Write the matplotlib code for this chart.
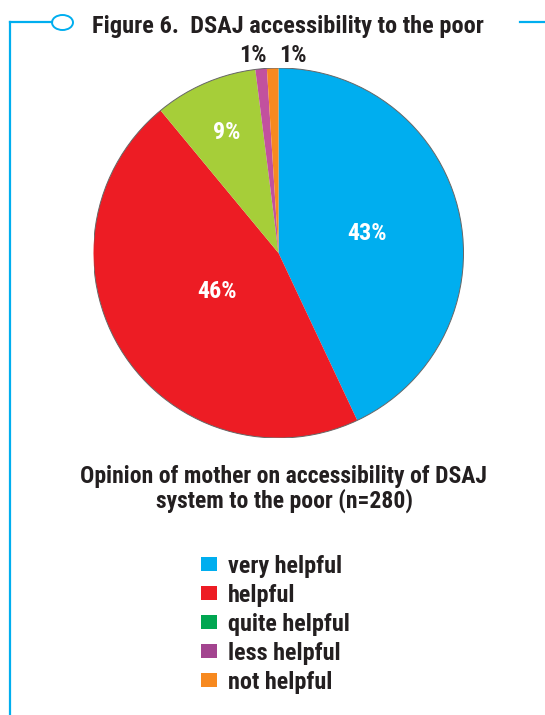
import matplotlib
matplotlib.use("Agg")
import matplotlib.pyplot as plt
from matplotlib import font_manager
from matplotlib.patches import Ellipse, Circle, Rectangle
from matplotlib.lines import Line2D
import numpy as np

# Data
categories = ["very helpful", "helpful", "quite helpful", "less helpful", "not helpful"]
shares = [43, 46, 9, 1, 1]
pct_labels = ["43%", "46%", "9%", "1%", "1%"]
title = "Figure 6.  DSAJ accessibility to the poor"
caption = ["Opinion of mother on accessibility of DSAJ", "system to the poor (n=280)"]

# Styling
wedge_colors = ["#00AEEF", "#ED1C24", "#A6CE39", "#C2519E", "#F7891F"]
legend_colors = ["#00AEEF", "#ED1C24", "#00A651", "#A3448F", "#F7891F"]
label_colors = ["white", "white", "white", "#231F20", "#231F20"]
label_radius = [0.49, 0.392, 0.711, 1.07, 1.07]
label_xshift = [0.0, 0.0, 0.0, -0.040, 0.114]
ink = "#231F20"
blue = "#00AEEF"
WEIGHT = 800


def pick_font():
    preferred = ["Roboto Condensed", "Archivo Narrow", "Barlow Semi Condensed",
                 "Barlow Condensed", "PT Sans Narrow", "Fira Sans Condensed",
                 "IBM Plex Sans Condensed", "Saira SemiCondensed",
                 "Liberation Sans Narrow", "DejaVu Sans"]
    bold = {f.name for f in font_manager.fontManager.ttflist
            if (f.weight if isinstance(f.weight, int) else 400) >= 600
            or f.weight in ("bold", "semibold", "demibold", "heavy", "black")}
    for name in preferred:
        if name in bold:
            return name
    return "DejaVu Sans"


plt.rcParams['font.family'] = [pick_font(), 'DejaVu Sans']

W, H = 545, 715
fig = plt.figure(figsize=(W / 100, H / 100), dpi=100)
fig.patch.set_facecolor("white")
renderer = fig.canvas.get_renderer()


def fx(px):
    return px / W


def fy(py):
    return 1 - py / H


def fit_width(txt, target_px):
    w = txt.get_window_extent(renderer).width
    txt.set_fontsize(txt.get_fontsize() * target_px / w)
    return txt.get_fontsize()


# Frame ornament
fig.add_artist(Line2D([fx(10), fx(10)], [fy(22), fy(715)], color=blue, lw=1.6,
                      transform=fig.transFigure))
fig.add_artist(Line2D([fx(10), fx(52)], [fy(22), fy(22)], color=blue, lw=1.6,
                      transform=fig.transFigure))
fig.add_artist(Ellipse((fx(62.5), fy(22.5)), fx(21), 15 / H, fill=False,
                       edgecolor=blue, lw=1.4, transform=fig.transFigure))
fig.add_artist(Line2D([fx(520), fx(545)], [fy(21.5), fy(21.5)], color=blue, lw=1.6,
                      transform=fig.transFigure))

t = fig.text(fx(288), fy(33), title, ha="center", va="baseline",
             fontsize=10, fontweight=WEIGHT, color=ink)
fit_width(t, 392)

# Pie
cx, cy, r = 278.5, 253, 185
ax = fig.add_axes([fx(cx - r), fy(cy + r), 2 * r / W, 2 * r / H])
wedges, _ = ax.pie(shares, colors=wedge_colors, startangle=90, counterclock=False,
                   radius=1, wedgeprops=dict(linewidth=0))
ax.set_xlim(-1, 1)
ax.set_ylim(-1, 1)
ax.set_aspect("equal")
ax.axis("off")
ax.add_patch(Circle((0, 0), 1, fill=False, edgecolor="#666666", lw=0.7))

probe = ax.text(0, 0, pct_labels[0], fontsize=10, fontweight=WEIGHT)
label_size = fit_width(probe, 40)
probe.remove()

for w, txt, col, rr, dx in zip(wedges, pct_labels, label_colors, label_radius, label_xshift):
    mid = np.deg2rad((w.theta1 + w.theta2) / 2)
    ax.text(rr * np.cos(mid) + dx, rr * np.sin(mid), txt, ha="center", va="center",
            fontsize=label_size, fontweight=WEIGHT, color=col, clip_on=False)

# Caption
c1 = fig.text(fx(284), fy(483), caption[0], ha="center", va="baseline",
              fontsize=10, fontweight=WEIGHT, color=ink)
cap_size = fit_width(c1, 406)
fig.text(fx(284.5), fy(508), caption[1], ha="center", va="baseline",
         fontsize=cap_size, fontweight=WEIGHT, color=ink)

# Legend
probe = fig.text(0, 0, categories[0], fontsize=10, fontweight=WEIGHT)
leg_size = fit_width(probe, 114)
probe.remove()

row0, step = 564, 28.9
for i, (name, col) in enumerate(zip(categories, legend_colors)):
    yc = row0 + i * step
    fig.add_artist(Rectangle((fx(201), fy(yc + 7)), fx(16), 14 / H,
                             facecolor=col, edgecolor="none", transform=fig.transFigure))
    fig.text(fx(228), fy(yc + 9), name, ha="left", va="baseline",
             fontsize=leg_size, fontweight=WEIGHT, color=ink)

fig.savefig("out.png", dpi=100, facecolor="white")
